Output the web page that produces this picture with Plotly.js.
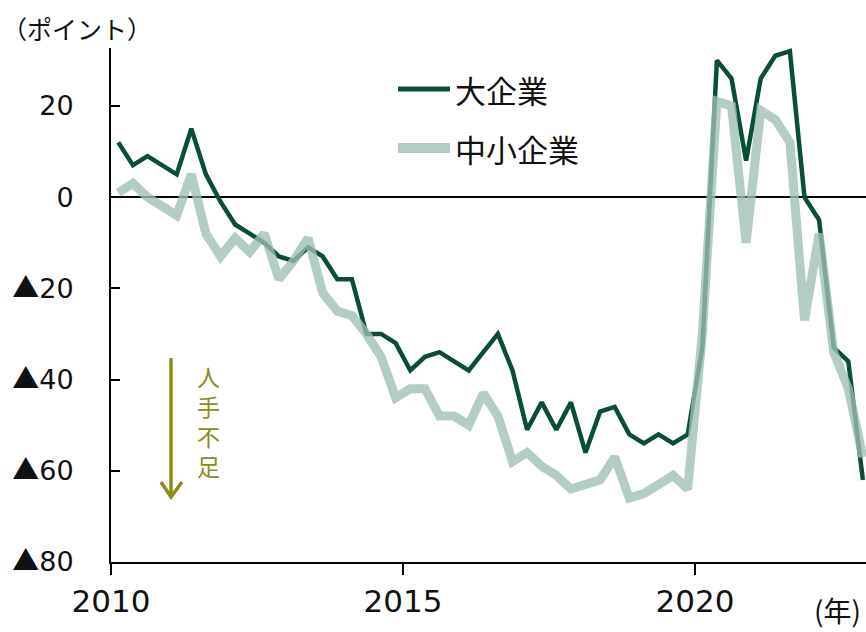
<!DOCTYPE html>
<html>
<head>
<meta charset="utf-8">
<script src="https://cdn.plot.ly/plotly-3.0.1.min.js"></script>
<style>
html,body{margin:0;padding:0;background:#fff;}
#chart{width:866px;height:632px;}
</style>
</head>
<body>
<div id="chart"></div>
<script>
// Quarterly periods 2010Q1 .. 2022Q4
const periods = [
  '2010Q1','2010Q2','2010Q3','2010Q4','2011Q1','2011Q2','2011Q3','2011Q4',
  '2012Q1','2012Q2','2012Q3','2012Q4','2013Q1','2013Q2','2013Q3','2013Q4',
  '2014Q1','2014Q2','2014Q3','2014Q4','2015Q1','2015Q2','2015Q3','2015Q4',
  '2016Q1','2016Q2','2016Q3','2016Q4','2017Q1','2017Q2','2017Q3','2017Q4',
  '2018Q1','2018Q2','2018Q3','2018Q4','2019Q1','2019Q2','2019Q3','2019Q4',
  '2020Q1','2020Q2','2020Q3','2020Q4','2021Q1','2021Q2','2021Q3','2021Q4',
  '2022Q1','2022Q2','2022Q3','2022Q4'
];
// 大企業
const large = [
  12, 7, 9, 7, 5, 15, 5, -1,
  -6, -8, -10, -13, -14, -11, -13, -18,
  -18, -30, -30, -32, -38, -35, -34, -36,
  -38, -34, -30, -38, -51, -45, -51, -45,
  -56, -47, -46, -52, -54, -52, -54, -52,
  -33, 30, 26, 8, 26, 31, 32, 0,
  -5, -33, -36, -62
];
// 中小企業
const sme = [
  1, 3, 0, -2, -4, 5, -8, -13,
  -9, -12, -8, -18, -14, -9, -21, -25,
  -26, -30, -35, -44, -42, -42, -48, -48,
  -50, -43, -48, -58, -56, -59, -61, -64,
  -63, -62, -57, -66, -65, -63, -61, -64,
  -30, 21, 20, -10, 19, 17, 12, -27,
  -8, -34, -42, -57
];
const seriesNames = ['大企業', '中小企業'];
const yTickVals = [-80, -60, -40, -20, 0, 20];
const yTickText = ['▲80', '▲60', '▲40', '▲20', '0', '20'];
const xTickVals = [2010, 2015, 2020];
const xTickText = ['2010', '2015', '2020'];
const yUnit = '（ポイント）';
const xUnit = '(年)';
const sideLabel = ['人', '手', '不', '足'];

// position each quarter at its middle
function qpos(p) {
  const y = parseInt(p.slice(0, 4), 10);
  const q = parseInt(p.slice(5), 10);
  return y + (q - 0.5) / 4;
}
const xs = periods.map(qpos);

const DARK = '#0a4f33';
const LIGHT = 'rgba(158,191,178,0.78)';
const OLIVE = '#8c8c1a';
const FONT = 'DejaVu Sans, Noto Sans CJK JP, sans-serif';
const JFONT = 'Noto Sans CJK JP, sans-serif';

// render ▲ with the CJK font so it is full width
const yTickHtml = yTickText.map(t =>
  t.replace('▲', '<span style="font-family:\'Noto Sans CJK JP\'">▲</span>'));

const traces = [
  {x: xs, y: large, type: 'scatter', mode: 'lines', name: seriesNames[0],
   line: {color: DARK, width: 4.5, shape: 'linear'}, showlegend: false},
  {x: xs, y: sme, type: 'scatter', mode: 'lines', name: seriesNames[1],
   line: {color: LIGHT, width: 9, shape: 'linear'}, showlegend: false}
];

// pixel helpers for decorations (paper coordinates)
const L = 111, T = 48, W = 866 - 111, H = 562 - 48;
const px = x => (x - L) / W;
const py = y => (562 - y) / H;

const shapes = [
  {type: 'line', xref: 'paper', yref: 'paper', x0: px(398), x1: px(450), y0: py(89), y1: py(89),
   line: {color: DARK, width: 5}},
  {type: 'line', xref: 'paper', yref: 'paper', x0: px(398), x1: px(450), y0: py(148), y1: py(148),
   line: {color: LIGHT, width: 10}},
  {type: 'path', xref: 'paper', yref: 'paper',
   path: `M ${px(171)} ${py(358)} L ${px(171)} ${py(497)} M ${px(161)} ${py(482)} L ${px(171)} ${py(497)} L ${px(182)} ${py(482)}`,
   line: {color: OLIVE, width: 3.5}}
];

const annotations = [
  {xref: 'paper', yref: 'paper', x: px(453), y: py(89), xanchor: 'left', yanchor: 'middle',
   text: seriesNames[0], showarrow: false, font: {family: JFONT, size: 31, color: '#111'}},
  {xref: 'paper', yref: 'paper', x: px(453), y: py(148), xanchor: 'left', yanchor: 'middle',
   text: seriesNames[1], showarrow: false, font: {family: JFONT, size: 31, color: '#111'}},
  {xref: 'paper', yref: 'paper', x: px(0), y: py(28), xanchor: 'left', yanchor: 'middle',
   text: yUnit, showarrow: false, font: {family: JFONT, size: 25, color: '#111'}},
  {xref: 'paper', yref: 'paper', x: px(863), y: py(610), xanchor: 'right', yanchor: 'middle',
   text: xUnit, showarrow: false, font: {family: JFONT, size: 28, color: '#111'}},
  {xref: 'paper', yref: 'paper', x: px(208), y: py(421), xanchor: 'center', yanchor: 'middle',
   text: sideLabel.join('<br>'), showarrow: false,
   font: {family: JFONT, size: 23, color: OLIVE}}
];

const layout = {
  width: 866, height: 632,
  margin: {l: L, r: 0, t: T, b: 632 - 562, pad: 0},
  paper_bgcolor: '#fff', plot_bgcolor: '#fff',
  showlegend: false,
  font: {family: FONT, size: 27, color: '#111'},
  xaxis: {
    range: [2010, 2010 + W / 58.4], showgrid: false, zeroline: false,
    showline: true, linecolor: '#000', linewidth: 2,
    tickmode: 'array', tickvals: xTickVals, ticktext: xTickText,
    ticks: 'outside', ticklen: 11, tickwidth: 2, tickcolor: '#000',
    tickfont: {family: FONT, size: 31, color: '#111'}
  },
  yaxis: {
    range: [-80, 32.7], showgrid: false,
    zeroline: true, zerolinecolor: '#000', zerolinewidth: 2,
    showline: true, linecolor: '#000', linewidth: 2,
    tickmode: 'array', tickvals: yTickVals, ticktext: yTickHtml,
    ticks: 'inside', ticklen: 9, tickwidth: 2, tickcolor: '#000',
    ticklabelstandoff: 30,
    tickfont: {family: FONT, size: 27, color: '#111'}
  },
  shapes: shapes,
  annotations: annotations
};

Plotly.newPlot('chart', traces, layout, {staticPlot: true, displayModeBar: false});
</script>
</body>
</html>
